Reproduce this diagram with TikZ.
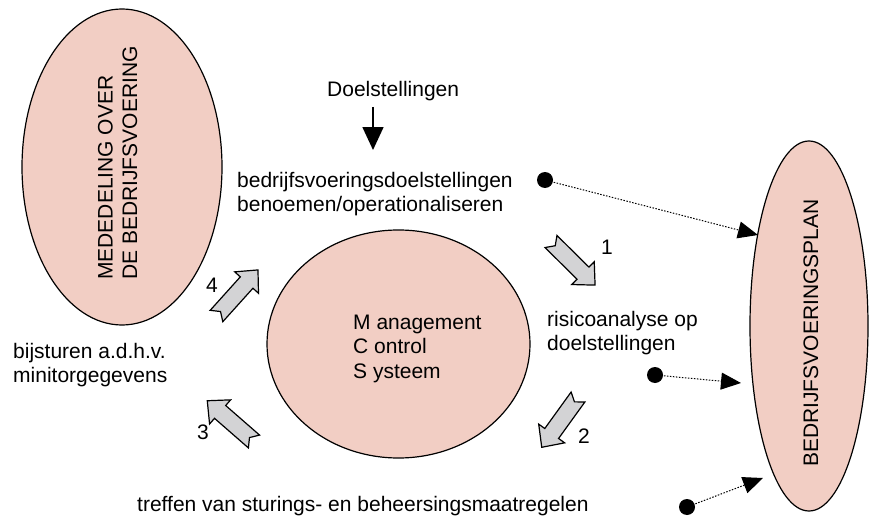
\documentclass[tikz,border=0pt]{standalone}
\usepackage{fontspec}
\setmainfont{Liberation Sans}
\usetikzlibrary{arrows.meta,shapes.geometric}
\definecolor{pinkfill}{RGB}{242,206,196}
\definecolor{arrowgray}{RGB}{211,211,213}
\begin{document}
\begin{tikzpicture}[x=1pt,y=-1pt,
  lbl/.style={font=\fontsize{21}{24.5}\selectfont, inner sep=0pt, align=left, anchor=base west},
  ell/.style={ellipse, draw=black, line width=1.2pt, fill=pinkfill, inner sep=0pt},
  dotnode/.style={circle, fill=black, minimum size=16pt, inner sep=0pt},
  dotarrow/.style={line width=1pt, dash pattern=on 1.5pt off 1.5pt, -{Triangle[length=20pt,width=17pt]}},
  downarrow/.style={line width=1.6pt, -{Triangle[length=23pt,width=21pt]}},
  blockarrow/.pic={\draw[line width=1.2pt, fill=arrowgray, line join=miter]
     (0,8.5) -- (6,0) -- (0,-8.5) -- (45,-8.5) -- (45,-16) -- (62,0) -- (45,16) -- (45,8.5) -- cycle;}
]
\useasboundingbox (0,0) rectangle (871,519);

% ellipses
\node[ell, minimum width=200pt, minimum height=316pt] (left) at (122,167) {};
\node[ell, minimum width=263pt, minimum height=228pt] (mid) at (398.5,344) {};
\node[ell, minimum width=118pt, minimum height=370pt] (right) at (809,326) {};

% ellipse texts (anchor = baseline of the last line)
\node[lbl, rotate=90] (ltext) at (137,280) {MEDEDELING OVER\\DE BEDRIJFSVOERING};
\node[lbl, rotate=90] (rtext) at (818,467) {BEDRIJFSVOERINGSPLAN};
\node[lbl] (mtext) at (353,378) {M anagement\\C ontrol\\S ysteem};

% other texts
\node[lbl] (doel) at (327,97) {Doelstellingen};
\node[lbl] (bedr) at (237,211.5) {bedrijfsvoeringsdoelstellingen\\benoemen/operationaliseren};
\node[lbl] (risico) at (547,350.5) {risicoanalyse op\\doelstellingen};
\node[lbl] (bijst) at (13,382.5) {bijsturen a.d.h.v.\\minitorgegevens};
\node[lbl] (treffen) at (137,511) {treffen van sturings- en beheersingsmaatregelen};

% numbers
\node[lbl, anchor=base] (n1) at (607,254) {1};
\node[lbl, anchor=base] (n2) at (584,443) {2};
\node[lbl, anchor=base] (n3) at (203,439) {3};
\node[lbl, anchor=base] (n4) at (212,292) {4};

% down arrow
\coordinate (ds) at (373,107);
\coordinate (de) at (373,150);
\draw[downarrow] (ds) -- (de);

% block arrows
\pic[rotate=-44.7] at (551,241.5) {blockarrow};
\pic[rotate=-125.8] at (578,397) {blockarrow};
\pic[rotate=138.9] at (254,441.5) {blockarrow};
\pic[rotate=48] at (216.5,316) {blockarrow};

% dots and dotted arrows
\node[dotnode] (d1) at (545,180) {};
\node[dotnode] (d2) at (655,375) {};
\node[dotnode] (d3) at (687,507) {};
\coordinate (t1) at (758,235);
\coordinate (t2) at (741,383);
\coordinate (t3) at (763,478);
\draw[dotarrow] (d1.center) -- (t1);
\draw[dotarrow] (d2.center) -- (t2);
\draw[dotarrow] (d3.center) -- (t3);
\end{tikzpicture}
\end{document}
